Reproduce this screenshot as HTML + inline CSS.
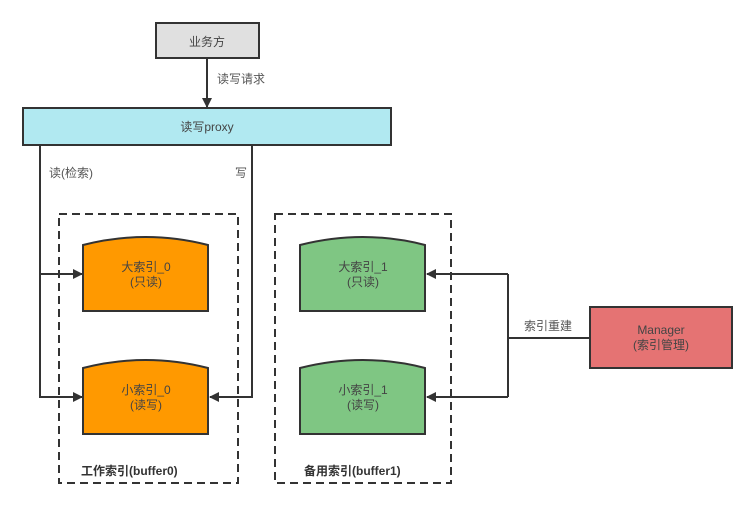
<!DOCTYPE html>
<html><head><meta charset="utf-8"><style>
html,body{margin:0;padding:0;background:#fff;}
svg text{font-family:"Liberation Sans","Noto Sans CJK SC",sans-serif;}
</style></head><body>
<svg width="756" height="514" viewBox="0 0 756 514" xmlns="http://www.w3.org/2000/svg">
<defs><marker id="a" markerWidth="10" markerHeight="10" refX="9" refY="5" orient="auto" markerUnits="userSpaceOnUse"><path d="M0,0 L10,5 L0,10 z" fill="#333"/></marker></defs>
<g stroke="#333" stroke-width="2" fill="none">
<rect x="156" y="23" width="103" height="35" fill="#e0e0e0"/>
<line x1="207" y1="58" x2="207" y2="107" marker-end="url(#a)"/>
<rect x="23" y="108" width="368" height="37" fill="#b1e9f1"/>
<polyline points="40,145 40,397 82,397" marker-end="url(#a)"/>
<line x1="40" y1="274" x2="82" y2="274" marker-end="url(#a)"/>
<polyline points="252,145 252,397 210,397" marker-end="url(#a)"/>
<path d="M83,245 Q146,229 208,245 L208,311 L83,311 Z" fill="#ff9900"/>
<path d="M83,368 Q146,352 208,368 L208,434 L83,434 Z" fill="#ff9900"/>
<path d="M300,245 Q363,229 425,245 L425,311 L300,311 Z" fill="#7fc683"/>
<path d="M300,368 Q363,352 425,368 L425,434 L300,434 Z" fill="#7fc683"/>
<rect x="590" y="307" width="142" height="61" fill="#e57373"/>
<line x1="590" y1="338" x2="508" y2="338"/>
<polyline points="508,274 508,397"/>
<line x1="508" y1="274" x2="427" y2="274" marker-end="url(#a)"/>
<line x1="508" y1="397" x2="427" y2="397" marker-end="url(#a)"/>
<rect x="59" y="214" width="179" height="269" stroke-dasharray="8,5"/>
<rect x="275" y="214" width="176" height="269" stroke-dasharray="8,5"/>
</g>
<g font-size="12" fill="#444" text-anchor="middle">
<text x="207" y="46">业务方</text>
<text x="207" y="131">读写proxy</text>
<text x="146" y="271">大索引_0</text><text x="146" y="286">(只读)</text>
<text x="146" y="394">小索引_0</text><text x="146" y="409">(读写)</text>
<text x="363" y="271">大索引_1</text><text x="363" y="286">(只读)</text>
<text x="363" y="394">小索引_1</text><text x="363" y="409">(读写)</text>
<text x="661" y="334">Manager</text><text x="661" y="349">(索引管理)</text>
</g>
<g font-size="12" fill="#555">
<text x="217" y="83">读写请求</text>
<text x="49" y="177">读(检索)</text>
<text x="235" y="177">写</text>
<text x="524" y="330">索引重建</text>
</g>
<g font-size="12" fill="#333" font-weight="bold">
<text x="81" y="475">工作索引(buffer0)</text>
<text x="304" y="475">备用索引(buffer1)</text>
</g>
</svg>
</body></html>
